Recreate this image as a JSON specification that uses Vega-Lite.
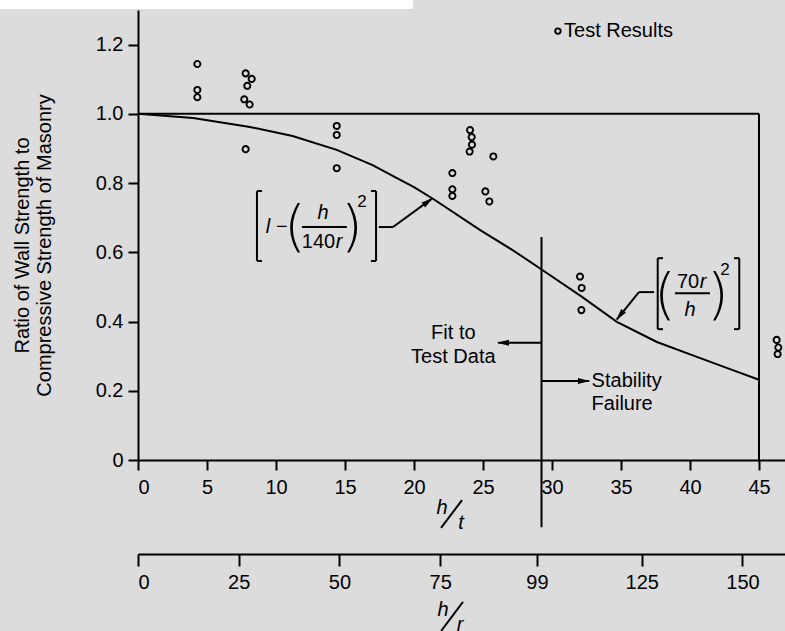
{
  "$schema": "https://vega.github.io/schema/vega-lite/v6.json",
  "autosize": {"type": "none"},
  "width": 647,
  "height": 450,
  "padding": {"left": 138, "top": 10, "right": 0, "bottom": 171},
  "background": "#dcdcdc",
  "config": {
    "view": {"stroke": null},
    "font": "Liberation Sans",
    "axis": {
      "domainColor": "#000", "domainWidth": 2, "tickColor": "#000", "tickWidth": 2,
      "labelColor": "#000", "labelFontSize": 20, "labelFont": "Liberation Sans",
      "grid": false, "titleColor": "#000", "titleFont": "Liberation Sans",
      "titleFontSize": 20, "titleFontWeight": "normal"
    }
  },
  "datasets": {
    "curve": [
      {"x": 0, "y": 1.0}, {"x": 4, "y": 0.988}, {"x": 8, "y": 0.963}, {"x": 11.2, "y": 0.936},
      {"x": 14.4, "y": 0.896}, {"x": 17, "y": 0.852}, {"x": 19, "y": 0.809}, {"x": 20, "y": 0.788},
      {"x": 21.4, "y": 0.754}, {"x": 24.8, "y": 0.664}, {"x": 27.2, "y": 0.605}, {"x": 29.3, "y": 0.549},
      {"x": 32.15, "y": 0.472}, {"x": 34.7, "y": 0.399}, {"x": 37.6, "y": 0.341}, {"x": 40.5, "y": 0.298},
      {"x": 43, "y": 0.261}, {"x": 45.05, "y": 0.231}
    ],
    "tests": [
      {"x": 4.3, "y": 1.144}, {"x": 4.3, "y": 1.069}, {"x": 4.3, "y": 1.048},
      {"x": 7.8, "y": 1.117}, {"x": 8.24, "y": 1.101}, {"x": 7.92, "y": 1.081}, {"x": 7.7, "y": 1.042},
      {"x": 8.09, "y": 1.027}, {"x": 7.8, "y": 0.898},
      {"x": 14.4, "y": 0.965}, {"x": 14.4, "y": 0.939}, {"x": 14.4, "y": 0.843},
      {"x": 24.06, "y": 0.953}, {"x": 24.18, "y": 0.933}, {"x": 24.2, "y": 0.911}, {"x": 24.03, "y": 0.891},
      {"x": 25.75, "y": 0.877}, {"x": 22.78, "y": 0.829}, {"x": 22.78, "y": 0.782}, {"x": 22.78, "y": 0.763},
      {"x": 25.17, "y": 0.776}, {"x": 25.46, "y": 0.747},
      {"x": 32.03, "y": 0.53}, {"x": 32.15, "y": 0.497}, {"x": 32.13, "y": 0.433},
      {"x": 46.28, "y": 0.347}, {"x": 46.4, "y": 0.325}, {"x": 46.35, "y": 0.306}
    ],
    "legendPt": [{"x": 30.43, "y": 1.239}],
    "segs": [
      {"x": 0, "y": 1.0, "x2": 45, "y2": 1.0},
      {"x": 45, "y": 1.0, "x2": 45, "y2": 0},
      {"x": 29.24, "y": 0.644, "x2": 29.24, "y2": -0.194},
      {"x": 29.24, "y": 0.339, "x2": 26.1, "y2": 0.339},
      {"x": 29.24, "y": 0.228, "x2": 32.7, "y2": 0.228},
      {"x": 17.45, "y": 0.673, "x2": 18.48, "y2": 0.673},
      {"x": 18.48, "y": 0.673, "x2": 21.3, "y2": 0.755},
      {"x": 37.4, "y": 0.485, "x2": 36.3, "y2": 0.485},
      {"x": 36.3, "y": 0.485, "x2": 34.7, "y2": 0.406},
      {"x": 8.62, "y": 0.777, "x2": 8.62, "y2": 0.575},
      {"x": 8.62, "y": 0.777, "x2": 8.99, "y2": 0.777},
      {"x": 8.62, "y": 0.575, "x2": 8.99, "y2": 0.575},
      {"x": 17.25, "y": 0.777, "x2": 17.25, "y2": 0.575},
      {"x": 17.25, "y": 0.777, "x2": 16.88, "y2": 0.777},
      {"x": 17.25, "y": 0.575, "x2": 16.88, "y2": 0.575},
      {"x": 11.88, "y": 0.673, "x2": 15.14, "y2": 0.673},
      {"x": 37.66, "y": 0.583, "x2": 37.66, "y2": 0.378},
      {"x": 37.66, "y": 0.583, "x2": 38.04, "y2": 0.583},
      {"x": 37.66, "y": 0.378, "x2": 38.04, "y2": 0.378},
      {"x": 43.57, "y": 0.583, "x2": 43.57, "y2": 0.378},
      {"x": 43.57, "y": 0.583, "x2": 43.19, "y2": 0.583},
      {"x": 43.57, "y": 0.378, "x2": 43.19, "y2": 0.378},
      {"x": 38.91, "y": 0.482, "x2": 41.45, "y2": 0.482},
      {"x": 21.96, "y": -0.196, "x2": 23.48, "y2": -0.116},
      {"x": 21.96, "y": -0.494, "x2": 23.55, "y2": -0.41}
    ],
    "arrows": [
      {"x": 21.38, "y": 0.757, "dir": "upright"},
      {"x": 34.64, "y": 0.404, "dir": "downleft"},
      {"x": 26.01, "y": 0.339, "dir": "left"},
      {"x": 32.75, "y": 0.228, "dir": "right"}
    ],
    "strip": [{"x": -10, "x2": 19.93, "y": 1.3029, "y2": 1.34}],
    "txt": [
      {"t": "Fit to", "x": 22.85, "y": 0.366, "kind": "center"},
      {"t": "Test Data", "x": 22.85, "y": 0.298, "kind": "center"},
      {"t": "Stability", "x": 32.87, "y": 0.229, "kind": "left"},
      {"t": "Failure", "x": 32.87, "y": 0.162, "kind": "left"},
      {"t": "Test Results", "x": 30.87, "y": 1.239, "kind": "left"},
      {"t": "l", "x": 9.42, "y": 0.673, "kind": "italic"},
      {"t": "h", "x": 13.41, "y": 0.713, "kind": "italic"},
      {"t": "r", "x": 14.57, "y": 0.63, "kind": "italic"},
      {"t": "h", "x": 40.0, "y": 0.433, "kind": "italic"},
      {"t": "r", "x": 40.94, "y": 0.514, "kind": "italic"},
      {"t": "h", "x": 22.03, "y": -0.139, "kind": "italic"},
      {"t": "t", "x": 23.41, "y": -0.182, "kind": "italic"},
      {"t": "h", "x": 22.1, "y": -0.433, "kind": "italic"},
      {"t": "r", "x": 23.33, "y": -0.477, "kind": "italic"},
      {"t": "−", "x": 10.43, "y": 0.673, "kind": "formula"},
      {"t": "140", "x": 13.08, "y": 0.63, "kind": "formula"},
      {"t": "70", "x": 39.86, "y": 0.514, "kind": "formula"},
      {"t": "2", "x": 16.23, "y": 0.745, "kind": "sup"},
      {"t": "2", "x": 42.54, "y": 0.549, "kind": "sup"},
      {"t": "(", "x": 11.38, "y": 0.67, "kind": "paren"},
      {"t": ")", "x": 15.51, "y": 0.67, "kind": "paren"},
      {"t": "(", "x": 38.19, "y": 0.474, "kind": "paren"},
      {"t": ")", "x": 42.03, "y": 0.474, "kind": "paren"}
    ],
    "hrTicks": [{"hr": 0}, {"hr": 25}, {"hr": 50}, {"hr": 75}, {"hr": 99}, {"hr": 125}, {"hr": 150}]
  },
  "layer": [
    {
      "layer": [
        {
          "data": {"name": "curve"},
          "mark": {"type": "line", "color": "#000", "strokeWidth": 2, "clip": false},
          "encoding": {
            "x": {"field": "x", "type": "quantitative",
              "scale": {"domain": [0, 46.884], "nice": false, "zero": false},
              "axis": {"title": null, "orient": "bottom", "values": [0, 5, 10, 15, 20, 25, 30, 35, 40, 45],
                "tickSize": 10, "labelPadding": 7}},
            "y": {"field": "y", "type": "quantitative",
              "scale": {"domain": [0, 1.3], "nice": false, "zero": false},
              "axis": {"title": ["Ratio of Wall Strength to", "Compressive Strength of Masonry"],
                "values": [0, 0.2, 0.4, 0.6, 0.8, 1.0, 1.2], "tickSize": 10, "labelPadding": 5,
                "labelExpr": "datum.value == 0 ? '0' : format(datum.value, '.1f')",
                "titlePadding": 41, "titleLineHeight": 22, "titleY": 235}}
          }
        },
        {
          "data": {"name": "strip"},
          "mark": {"type": "rect", "color": "#ffffff", "clip": false},
          "encoding": {
            "x": {"field": "x", "type": "quantitative"}, "x2": {"field": "x2"},
            "y": {"field": "y", "type": "quantitative"}, "y2": {"field": "y2"}
          }
        },
        {
          "data": {"name": "segs"},
          "mark": {"type": "rule", "color": "#000", "strokeWidth": 2, "clip": false},
          "encoding": {
            "x": {"field": "x", "type": "quantitative"}, "x2": {"field": "x2"},
            "y": {"field": "y", "type": "quantitative"}, "y2": {"field": "y2"}
          }
        },
        {
          "data": {"name": "tests"},
          "mark": {"type": "point", "shape": "circle", "filled": false, "color": "#000", "strokeWidth": 1.9, "size": 38, "opacity": 1, "clip": false},
          "encoding": {
            "x": {"field": "x", "type": "quantitative"},
            "y": {"field": "y", "type": "quantitative"}
          }
        },
        {
          "data": {"name": "legendPt"},
          "mark": {"type": "point", "shape": "circle", "filled": false, "color": "#000", "strokeWidth": 1.9, "size": 30, "opacity": 1},
          "encoding": {
            "x": {"field": "x", "type": "quantitative"},
            "y": {"field": "y", "type": "quantitative"}
          }
        },
        {
          "data": {"name": "arrows"},
          "transform": [{"filter": "datum.dir == 'upright'"}],
          "mark": {"type": "point", "shape": "M0,0L0.6,2.4L-0.6,2.4Z", "filled": true, "color": "#000", "size": 100, "opacity": 1, "strokeWidth": 0, "angle": 54},
          "encoding": {"x": {"field": "x", "type": "quantitative"}, "y": {"field": "y", "type": "quantitative"}}
        },
        {
          "data": {"name": "arrows"},
          "transform": [{"filter": "datum.dir == 'downleft'"}],
          "mark": {"type": "point", "shape": "M0,0L0.6,2.4L-0.6,2.4Z", "filled": true, "color": "#000", "size": 100, "opacity": 1, "strokeWidth": 0, "angle": 219},
          "encoding": {"x": {"field": "x", "type": "quantitative"}, "y": {"field": "y", "type": "quantitative"}}
        },
        {
          "data": {"name": "arrows"},
          "transform": [{"filter": "datum.dir == 'left'"}],
          "mark": {"type": "point", "shape": "M0,0L0.6,2.4L-0.6,2.4Z", "filled": true, "color": "#000", "size": 100, "opacity": 1, "strokeWidth": 0, "angle": 270},
          "encoding": {"x": {"field": "x", "type": "quantitative"}, "y": {"field": "y", "type": "quantitative"}}
        },
        {
          "data": {"name": "arrows"},
          "transform": [{"filter": "datum.dir == 'right'"}],
          "mark": {"type": "point", "shape": "M0,0L0.6,2.4L-0.6,2.4Z", "filled": true, "color": "#000", "size": 100, "opacity": 1, "strokeWidth": 0, "angle": 90},
          "encoding": {"x": {"field": "x", "type": "quantitative"}, "y": {"field": "y", "type": "quantitative"}}
        },
        {
          "data": {"name": "txt"},
          "transform": [{"filter": "datum.kind == 'center'"}],
          "mark": {"type": "text", "fontSize": 20, "color": "#000", "align": "center", "baseline": "middle"},
          "encoding": {
            "x": {"field": "x", "type": "quantitative"},
            "y": {"field": "y", "type": "quantitative"},
            "text": {"field": "t"}
          }
        },
        {
          "data": {"name": "txt"},
          "transform": [{"filter": "datum.kind == 'left'"}],
          "mark": {"type": "text", "fontSize": 20, "color": "#000", "align": "left", "baseline": "middle"},
          "encoding": {
            "x": {"field": "x", "type": "quantitative"},
            "y": {"field": "y", "type": "quantitative"},
            "text": {"field": "t"}
          }
        },
        {
          "data": {"name": "txt"},
          "transform": [{"filter": "datum.kind == 'italic'"}],
          "mark": {"type": "text", "fontSize": 20, "fontStyle": "italic", "color": "#000", "align": "center", "baseline": "middle", "clip": false},
          "encoding": {
            "x": {"field": "x", "type": "quantitative"},
            "y": {"field": "y", "type": "quantitative"},
            "text": {"field": "t"}
          }
        },
        {
          "data": {"name": "txt"},
          "transform": [{"filter": "datum.kind == 'formula'"}],
          "mark": {"type": "text", "fontSize": 20, "color": "#000", "align": "center", "baseline": "middle"},
          "encoding": {
            "x": {"field": "x", "type": "quantitative"},
            "y": {"field": "y", "type": "quantitative"},
            "text": {"field": "t"}
          }
        },
        {
          "data": {"name": "txt"},
          "transform": [{"filter": "datum.kind == 'sup'"}],
          "mark": {"type": "text", "fontSize": 17, "color": "#000", "align": "center", "baseline": "middle"},
          "encoding": {
            "x": {"field": "x", "type": "quantitative"},
            "y": {"field": "y", "type": "quantitative"},
            "text": {"field": "t"}
          }
        },
        {
          "data": {"name": "txt"},
          "transform": [{"filter": "datum.kind == 'paren'"}],
          "mark": {"type": "text", "fontSize": 56, "font": "DejaVu Sans", "fontWeight": 200, "color": "#000", "align": "center", "baseline": "middle"},
          "encoding": {
            "x": {"field": "x", "type": "quantitative"},
            "y": {"field": "y", "type": "quantitative"},
            "text": {"field": "t"}
          }
        }
      ]
    },
    {
      "data": {"name": "hrTicks"},
      "mark": {"type": "point", "opacity": 0},
      "encoding": {
        "x": {"field": "hr", "type": "quantitative",
          "scale": {"domain": [0, 160.55], "nice": false, "zero": false},
          "axis": {"title": null, "orient": "bottom", "offset": 94, "values": [0, 25, 50, 75, 99, 125, 150],
            "tickSize": 12, "labelPadding": 6}}
      }
    }
  ],
  "resolve": {"scale": {"x": "independent"}, "axis": {"x": "independent"}}
}
